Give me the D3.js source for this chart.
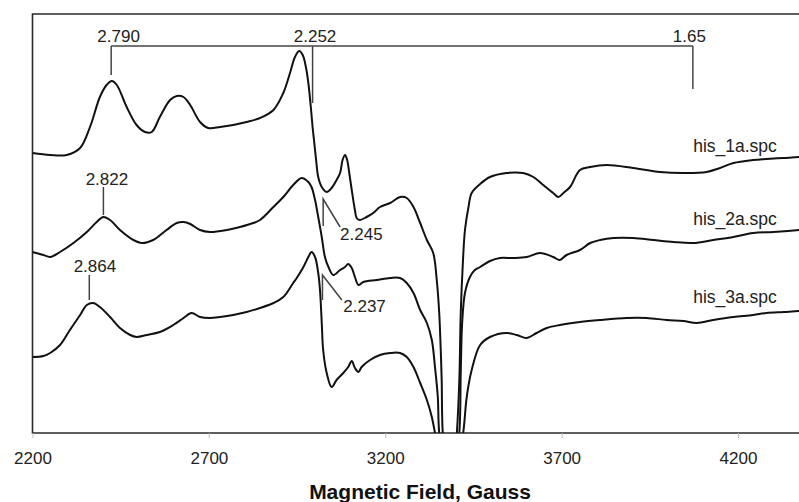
<!DOCTYPE html>
<html>
<head>
<meta charset="utf-8">
<script src="https://cdn.jsdelivr.net/npm/d3@7"></script>
<style>
  html, body { margin: 0; padding: 0; background: #fff; }
  svg { display: block; font-family: "Liberation Sans", Arial, sans-serif; }
</style>
</head>
<body>
<svg id="chart" width="799" height="502"></svg>
<script>
// --- Data (field in Gauss, signal in arbitrary units incl. vertical offset) ---
const his1Field = [2200, 2250, 2297, 2335, 2363, 2391, 2410, 2425, 2439, 2467, 2495, 2519, 2538, 2561, 2590, 2609, 2628, 2647, 2675, 2698, 2732, 2769, 2807, 2845, 2883, 2911, 2930, 2944, 2956, 2966, 2975, 2982, 2989, 2994, 2998, 3004, 3010, 3020, 3034, 3048, 3062, 3072, 3079, 3086, 3092, 3098, 3105, 3114, 3119, 3128, 3147, 3166, 3185, 3214, 3242, 3261, 3280, 3299, 3318, 3336, 3346, 3353, 3357, 3360, 3363, 3384, 3403, 3410, 3414, 3420, 3426, 3436, 3445, 3469, 3497, 3544, 3591, 3620, 3648, 3676, 3691, 3705, 3724, 3752, 3781, 3828, 3903, 3979, 4045, 4111, 4149, 4187, 4243, 4281, 4329, 4376, 4400];
const his1Value = [280, 278, 278, 285, 306, 336, 348, 352, 348, 326, 308, 301, 301, 316, 333, 337, 336, 328, 311, 305, 306, 308, 311, 315, 323, 340, 360, 376, 382, 378, 366, 350, 326, 306, 293, 273, 256, 246, 241, 245, 253, 260, 273, 278, 273, 260, 243, 223, 215, 213, 216, 220, 226, 230, 236, 235, 226, 210, 193, 180, 153, 120, 86, 53, 0, -80, 0, 53, 120, 170, 203, 226, 240, 249, 256, 260, 260, 256, 248, 240, 236, 240, 246, 263, 266, 268, 265, 261, 260, 261, 265, 270, 273, 274, 275, 276, 277];

const his2Field = [2200, 2231, 2250, 2278, 2316, 2354, 2382, 2401, 2420, 2448, 2486, 2510, 2542, 2580, 2609, 2628, 2647, 2675, 2703, 2751, 2788, 2826, 2845, 2883, 2911, 2939, 2963, 2982, 2991, 3001, 3010, 3020, 3029, 3039, 3053, 3072, 3086, 3095, 3105, 3114, 3124, 3138, 3176, 3214, 3242, 3261, 3280, 3299, 3318, 3332, 3341, 3349, 3353, 3384, 3410, 3414, 3418, 3426, 3440, 3454, 3469, 3497, 3525, 3563, 3601, 3639, 3676, 3695, 3714, 3752, 3781, 3809, 3847, 3903, 3960, 4017, 4073, 4130, 4187, 4243, 4300, 4376, 4400];
const his2Value = [181, 178, 176, 181, 190, 201, 211, 216, 213, 203, 193, 190, 193, 203, 210, 211, 209, 203, 201, 203, 206, 210, 213, 226, 236, 248, 255, 251, 246, 233, 216, 196, 176, 166, 158, 163, 166, 169, 165, 156, 148, 151, 153, 155, 155, 150, 140, 123, 110, 93, 66, 36, 0, -80, 0, 60, 110, 140, 156, 163, 166, 172, 175, 175, 176, 180, 176, 173, 178, 183, 190, 193, 195, 195, 193, 191, 190, 193, 196, 200, 201, 203, 204];

const his3Field = [2200, 2231, 2250, 2278, 2306, 2335, 2354, 2372, 2391, 2420, 2448, 2477, 2495, 2524, 2561, 2599, 2628, 2651, 2675, 2703, 2732, 2769, 2807, 2845, 2883, 2911, 2939, 2949, 2968, 2982, 2991, 3001, 3010, 3015, 3020, 3024, 3034, 3048, 3062, 3081, 3095, 3105, 3114, 3124, 3133, 3157, 3185, 3214, 3242, 3261, 3280, 3299, 3318, 3332, 3341, 3384, 3421, 3431, 3445, 3469, 3497, 3544, 3573, 3601, 3629, 3658, 3695, 3752, 3809, 3885, 3941, 3998, 4045, 4083, 4130, 4187, 4243, 4281, 4329, 4376, 4400];
const his3Value = [76, 77, 80, 88, 103, 118, 128, 130, 126, 116, 105, 98, 96, 98, 101, 108, 115, 120, 116, 115, 116, 118, 121, 125, 130, 136, 150, 155, 166, 176, 181, 176, 160, 143, 110, 83, 60, 46, 53, 60, 66, 72, 65, 61, 66, 73, 78, 80, 80, 76, 66, 50, 33, 16, 0, -80, 0, 36, 63, 88, 96, 100, 98, 95, 100, 105, 108, 111, 113, 115, 115, 113, 112, 110, 113, 116, 118, 120, 121, 122, 123];

const seriesNames = ['his_1a.spc', 'his_2a.spc', 'his_3a.spc'];
const seriesLabelField = [4073, 4073, 4073];
const seriesLabelValue = [281, 208, 130];

const xTicks = [2200, 2700, 3200, 3700, 4200];

// g-value markers: bracket across the top trace
const bracketLabels = ['2.790', '2.252', '1.65'];
const bracketField = [2423, 2994, 4072];
const bracketLabelField = [2444, 3001, 4062];
const bracketEnd = [358, 330, 344];
const bracketLevel = 387;
const bracketTextLevel = 391;

// single markers on lower traces
const markLabels = ['2.822', '2.864'];
const markField = [2401, 2361];
const markTop = [246, 158];
const markBottom = [218, 133];
const markTextField = [2411, 2377];
const markTextLevel = [248, 161];

// leader markers (vertical + slanted line to label)
const leadLabels = ['2.245', '2.237'];
const leadField = [3024, 3022];
const leadTop = [234, 158];
const leadBottom = [207, 133];
const leadEndField = [3072, 3077];
const leadEndValue = [206, 133];
const leadTextField = [3072, 3081];
const leadTextLevel = [193, 121];

// --- Layout ---
const svg = d3.select('#chart');
const margin = { left: 32.5, top: 14, bottom: 433 };
const x = d3.scaleLinear().domain([2200, 4200]).range([32.5, 738]);
const y = d3.scaleLinear().domain([0, 419]).range([margin.bottom, margin.top]);
const xEnd = x(4400);

svg.append('defs').append('clipPath').attr('id', 'plot-clip')
  .append('rect')
  .attr('x', margin.left).attr('y', margin.top)
  .attr('width', xEnd - margin.left).attr('height', margin.bottom - margin.top);

// frame
svg.append('path')
  .attr('d', `M${xEnd},${margin.top}H${margin.left}V${margin.bottom}H${xEnd}`)
  .attr('fill', 'none')
  .attr('stroke', '#2a2a2a')
  .attr('stroke-width', 1.6);

// x axis ticks and labels
const axis = svg.append('g').attr('transform', `translate(0,${margin.bottom})`)
  .call(d3.axisBottom(x).tickValues(xTicks).tickFormat(d3.format('d')).tickSize(5).tickPadding(14));
axis.select('.domain').remove();
axis.selectAll('line').attr('stroke', '#bbb');
axis.selectAll('text')
  .attr('font-family', '"Liberation Sans", Arial, sans-serif')
  .attr('font-size', 17)
  .attr('fill', '#222');

svg.append('text')
  .attr('x', 420).attr('y', 499)
  .attr('text-anchor', 'middle')
  .attr('font-size', 21)
  .attr('font-weight', 'bold')
  .attr('fill', '#111')
  .text('Magnetic Field, Gauss');

// --- Spectra ---
const line = d3.line()
  .x(d => x(d[0]))
  .y(d => y(d[1]))
  .curve(d3.curveCatmullRom.alpha(0.5));

const spectra = [
  d3.zip(his1Field, his1Value),
  d3.zip(his2Field, his2Value),
  d3.zip(his3Field, his3Value)
];

svg.append('g').attr('clip-path', 'url(#plot-clip)')
  .selectAll('path')
  .data(spectra)
  .enter().append('path')
  .attr('d', line)
  .attr('fill', 'none')
  .attr('stroke', '#111')
  .attr('stroke-width', 2)
  .attr('stroke-linejoin', 'round');

// series labels
svg.selectAll('.series-label')
  .data(seriesNames)
  .enter().append('text')
  .attr('class', 'series-label')
  .attr('x', (d, i) => x(seriesLabelField[i]))
  .attr('y', (d, i) => y(seriesLabelValue[i]))
  .attr('font-size', 17.5)
  .attr('fill', '#222')
  .text(d => d);

// --- Annotations ---
const ann = svg.append('g')
  .attr('stroke', '#444')
  .attr('stroke-width', 1.5)
  .attr('fill', 'none');

ann.append('line')
  .attr('x1', x(bracketField[0])).attr('x2', x(bracketField[bracketField.length - 1]))
  .attr('y1', y(bracketLevel)).attr('y2', y(bracketLevel));

bracketField.forEach((f, i) => {
  ann.append('line')
    .attr('x1', x(f)).attr('x2', x(f))
    .attr('y1', y(bracketLevel)).attr('y2', y(bracketEnd[i]));
});

markField.forEach((f, i) => {
  ann.append('line')
    .attr('x1', x(f)).attr('x2', x(f))
    .attr('y1', y(markTop[i])).attr('y2', y(markBottom[i]));
});

leadField.forEach((f, i) => {
  ann.append('path')
    .attr('d', `M${x(f)},${y(leadBottom[i])}V${y(leadTop[i])}L${x(leadEndField[i])},${y(leadEndValue[i])}`);
});

const labelStyle = sel => sel
  .attr('font-size', 17)
  .attr('fill', '#222');

bracketLabels.forEach((t, i) => {
  svg.append('text')
    .attr('x', x(bracketLabelField[i])).attr('y', y(bracketTextLevel))
    .attr('text-anchor', 'middle')
    .call(labelStyle)
    .text(t);
});

markLabels.forEach((t, i) => {
  svg.append('text')
    .attr('x', x(markTextField[i])).attr('y', y(markTextLevel[i]))
    .attr('text-anchor', 'middle')
    .call(labelStyle)
    .text(t);
});

leadLabels.forEach((t, i) => {
  svg.append('text')
    .attr('x', x(leadTextField[i])).attr('y', y(leadTextLevel[i]))
    .call(labelStyle)
    .text(t);
});
</script>
</body>
</html>
